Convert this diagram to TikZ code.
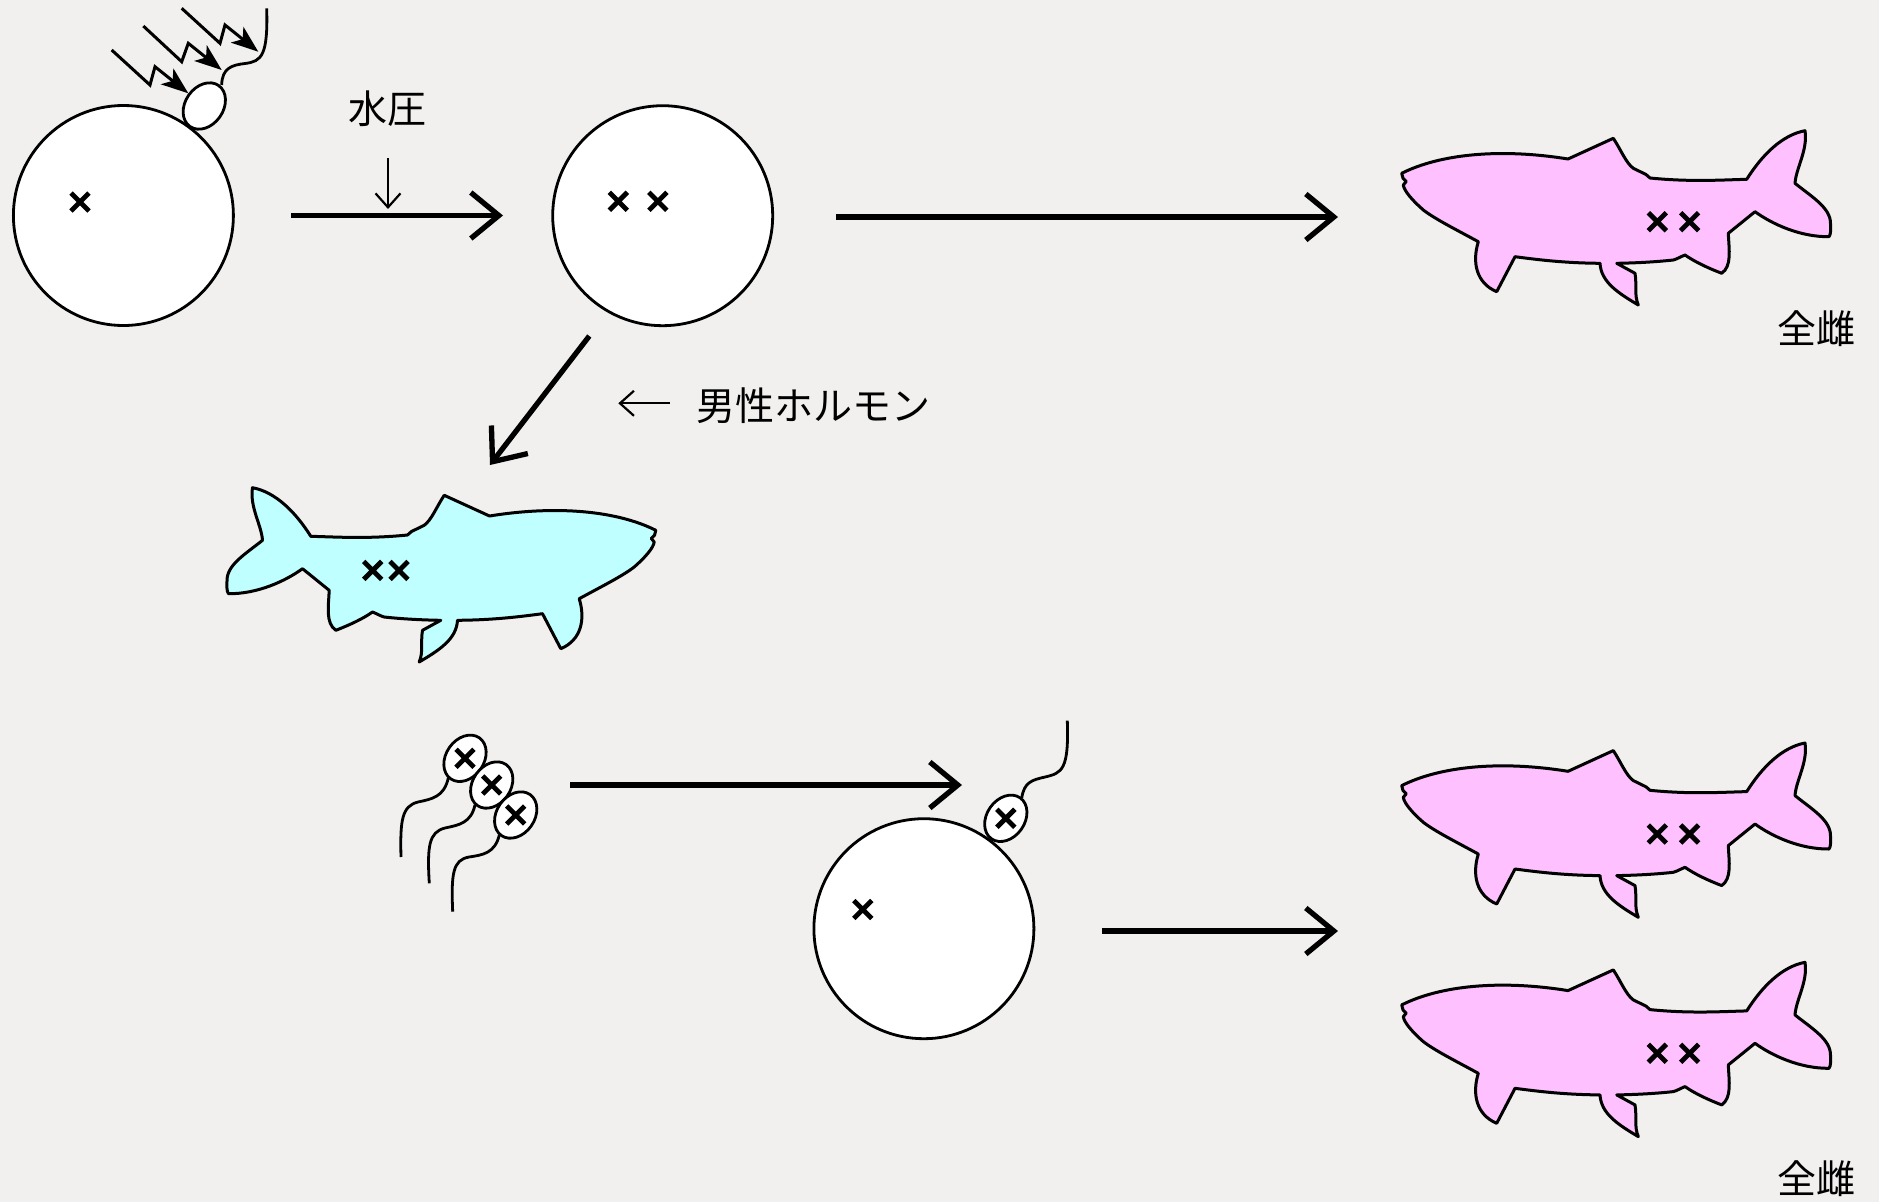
\documentclass[tikz,border=0pt]{standalone}
\usepackage{fontspec}
\newfontfamily\jp{Noto Sans CJK JP}
\usetikzlibrary{arrows.meta}
\definecolor{bg}{RGB}{241,240,238}
\definecolor{femalepink}{RGB}{255,192,255}
\definecolor{malecyan}{RGB}{192,255,255}

% outline of one fish, head to the left
\newcommand\fishoutline{%
  (1401.7,173.3) .. controls (1440,154) and (1500,148) .. (1568,159)
  -- (1613.3,138.3)
  .. controls (1621,150) and (1626,163) .. (1633.3,168.3)
  -- (1646,174.5) -- (1650,178)
  .. controls (1690,182) and (1720,180) .. (1746.7,179.3)
  .. controls (1762,155) and (1782,135) .. (1805,130.7)
  .. controls (1808,150) and (1796,168) .. (1795,183.3)
  .. controls (1812,197) and (1831,208) .. (1830.5,224)
  .. controls (1830.5,230) and (1831,234) .. (1829,236.7)
  .. controls (1800,237) and (1772,224) .. (1755,211.7)
  -- (1728.3,233.3)
  .. controls (1729,250) and (1732,266) .. (1721.7,273.3)
  .. controls (1708,268) and (1695,262) .. (1685,255)
  .. controls (1680,257) and (1677,259) .. (1673.3,260)
  .. controls (1655,262) and (1635,263) .. (1616.7,263.3)
  -- (1635,273.3)
  .. controls (1637,285) and (1634,295) .. (1638.3,305)
  .. controls (1618,293) and (1601,282) .. (1600,263.3)
  .. controls (1565,263) and (1540,260) .. (1515,256.7)
  -- (1496.7,291.7)
  .. controls (1476,283) and (1472,262) .. (1478.3,241.7)
  .. controls (1455,229) and (1435,219) .. (1423.3,210)
  .. controls (1413,201) and (1404,191) .. (1403.3,185)
  -- (1406.2,181.5) -- (1403,178.3) -- cycle}

\tikzset{
  egg/.style={circle, draw, line width=2.8pt, fill=white, minimum size=220pt, inner sep=0pt},
  spermhead/.style={draw, line width=2.8pt, fill=white},
  tail/.style={line width=2.8pt},
  fishline/.style={draw, line width=3pt, line join=round},
  bigarrow/.style={line width=5.3pt, -{Straight Barb[length=28pt, width=46pt, line width=5.3pt]}},
  thinarrow/.style={line width=2.2pt, -{Straight Barb[length=14pt, width=25pt, line width=2.2pt]}},
  zigzag/.style={line width=3pt, -{Stealth[length=27pt, width=20pt, inset=7pt]}},
  jtext/.style={font=\jp\fontsize{39}{42}\selectfont, inner sep=0pt},
  xcross/.pic={\draw[line width=4.8pt] (-9,-9) -- (9,9) (-9,9) -- (9,-9);}
}

\begin{document}
\begin{tikzpicture}[x=1pt, y=-1pt]
\useasboundingbox (0,0) rectangle (1879,1202);
\fill[bg] (0,0) rectangle (1879,1202);

% ---------- top row: egg, pressure treatment, fish ----------
\node[egg] (egg1) at (123.4,215.5) {};
\pic at (80,202) {xcross};

% sperm touching the first egg
\draw[tail] (221.7,85) .. controls (222,68) and (232,65) .. (245,63.5)
            .. controls (262,61.5) and (268,55) .. (266.7,8.3);
\draw[spermhead, rotate around={55:(204.3,106)}] (204.3,106) ellipse [x radius=25, y radius=19];

% irradiation arrows
\coordinate (z1s) at (111.7,50);   \coordinate (z1e) at (188.3,93.3);
\coordinate (z2s) at (143.3,26);   \coordinate (z2e) at (221.7,70);
\coordinate (z3s) at (181.7,8.3);  \coordinate (z3e) at (258.3,51.7);
\draw[zigzag] (z1s) -- (150,85) -- (155,66.7) -- (z1e);
\draw[zigzag] (z2s) -- (181.7,61.7) -- (188.3,43.3) -- (z2e);
\draw[zigzag] (z3s) -- (220,43.3) -- (225,25) -- (z3e);

\coordinate (a1s) at (291,215.5);
\coordinate (a1e) at (503,215.5);
\draw[bigarrow] (a1s) -- (a1e);

\node[jtext] (pressure) at (387,109) {水圧};
\coordinate (p1s) at (388,158);
\coordinate (p1e) at (388,209);
\draw[thinarrow] (p1s) -- (p1e);

\node[egg] (egg2) at (662.7,215.7) {};
\pic at (618.3,201.3) {xcross};
\pic at (657.9,201.3) {xcross};

\coordinate (a2s) at (836,217);
\coordinate (a2e) at (1338,217);
\draw[bigarrow] (a2s) -- (a2e);

% all-female offspring, top
\filldraw[fishline, fill=femalepink] \fishoutline;
\pic at (1657.3,221.7) {xcross};
\pic at (1689.6,221.7) {xcross};
\node[jtext] (female1) at (1816.7,329) {全雌};

% ---------- hormone treatment ----------
\coordinate (a3s) at (589.3,336);
\coordinate (a3e) at (490,465);
\draw[bigarrow] (a3s) -- (a3e);

\coordinate (h1s) at (670,403.3);
\coordinate (h1e) at (618.3,403.3);
\draw[thinarrow] (h1s) -- (h1e);
\node[jtext] (hormone) at (813.3,405.8) {男性ホルモン};

% sex-reversed male (mirrored fish)
\begin{scope}[shift={(2057.5,357)}, xscale=-1]
  \filldraw[fishline, fill=malecyan] \fishoutline;
\end{scope}
\pic at (372.7,570.4) {xcross};
\pic at (399,570.4) {xcross};

% ---------- bottom row: sperm, fertilisation, offspring ----------
\draw[tail] (448.3,778) .. controls (444,797) and (432,799) .. (418,802)
            .. controls (402,806) and (400,820) .. (401,857);
\draw[tail] (475,805) .. controls (471,823) and (459,825) .. (445,828)
            .. controls (429,832) and (427,846) .. (429.3,883.3);
\draw[tail] (499.3,835) .. controls (495,853) and (483,855) .. (469,857)
            .. controls (453,860) and (451,873) .. (452.7,911.7);
\draw[spermhead, rotate around={55:(465,758.3)}] (465,758.3) ellipse [x radius=25, y radius=19];
\pic at (465,758.3) {xcross};
\draw[spermhead, rotate around={55:(491.7,785)}] (491.7,785) ellipse [x radius=25, y radius=19];
\pic at (491.7,785) {xcross};
\draw[spermhead, rotate around={55:(515.7,815)}] (515.7,815) ellipse [x radius=25, y radius=19];
\pic at (515.7,815) {xcross};

\coordinate (a4s) at (570,785);
\coordinate (a4e) at (962,785);
\draw[bigarrow] (a4s) -- (a4e);

\node[egg] (egg3) at (923.9,928.7) {};
\pic at (862.8,909.5) {xcross};
\draw[tail] (1021.7,798.3) .. controls (1024,782) and (1032,780) .. (1045,777)
            .. controls (1062,773) and (1069,770) .. (1067.3,720.7);
\draw[spermhead, rotate around={55:(1005.8,818.3)}] (1005.8,818.3) ellipse [x radius=25, y radius=19];
\pic at (1005.8,818.3) {xcross};

\coordinate (a5s) at (1102,931);
\coordinate (a5e) at (1338,931);
\draw[bigarrow] (a5s) -- (a5e);

\begin{scope}[shift={(0,612.3)}]
  \filldraw[fishline, fill=femalepink] \fishoutline;
  \pic at (1657.3,221.7) {xcross};
  \pic at (1689.6,221.7) {xcross};
\end{scope}
\begin{scope}[shift={(0,831.6)}]
  \filldraw[fishline, fill=femalepink] \fishoutline;
  \pic at (1657.3,221.7) {xcross};
  \pic at (1689.6,221.7) {xcross};
\end{scope}
\node[jtext] (female2) at (1816.7,1178.3) {全雌};
\end{tikzpicture}
\end{document}
